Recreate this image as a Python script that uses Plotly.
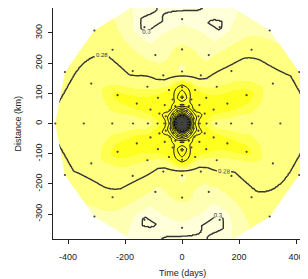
import numpy as np
import plotly.graph_objects as go

# ---- data ----
# directions of the lag rays (degrees); the map is centrally symmetric
ray_angles_deg = [0, 22.5, 45, 67.5, 90, 112.5, 135, 157.5]
# lag distances along each ray (plot units) - last point per ray given in outer_radius
lag_radii = [0, 8, 11, 16, 22, 31, 44, 62, 86, 120, 172, 245, 345]
outer_radius = [445, 445, 435, 425, 415, 425, 435, 445]

# semivariance values per ray, at lag_radii + outer radius
gamma_000 = [0.000, 0.050, 0.085, 0.125, 0.170, 0.225, 0.250, 0.265, 0.270, 0.275, 0.276, 0.276, 0.277, 0.279]
gamma_022 = [0.000, 0.050, 0.085, 0.125, 0.165, 0.215, 0.240, 0.256, 0.263, 0.265, 0.263, 0.265, 0.276, 0.282]
gamma_045 = [0.000, 0.045, 0.080, 0.120, 0.160, 0.210, 0.235, 0.262, 0.264, 0.266, 0.272, 0.277, 0.282, 0.293]
gamma_067 = [0.000, 0.045, 0.075, 0.115, 0.155, 0.205, 0.230, 0.256, 0.264, 0.268, 0.284, 0.291, 0.301, 0.297]
gamma_090 = [0.000, 0.045, 0.075, 0.110, 0.150, 0.200, 0.225, 0.262, 0.236, 0.255, 0.290, 0.287, 0.298, 0.303]
gamma_112 = [0.000, 0.045, 0.075, 0.115, 0.155, 0.205, 0.230, 0.256, 0.264, 0.268, 0.285, 0.292, 0.302, 0.297]
gamma_135 = [0.000, 0.045, 0.080, 0.120, 0.160, 0.210, 0.235, 0.262, 0.264, 0.266, 0.273, 0.283, 0.281, 0.282]
gamma_157 = [0.000, 0.050, 0.085, 0.125, 0.165, 0.215, 0.240, 0.256, 0.263, 0.265, 0.265, 0.266, 0.276, 0.282]

fill_breaks = [0.268, 0.272, 0.289, 0.296]
fill_colors = ["#FFFF1F", "#FFFF50", "#FFFF82", "#FFFFB4", "#FFFFDA"]
inner_levels = (0.01, 0.26, 0.01)
outer_levels = (0.28, 0.30, 0.02)

x_ticks = [-400, -200, 0, 200, 400]
x_tick_labels = ["-400", "-200", "0", "200", "400"]
y_ticks = [-300, -200, -100, 0, 100, 200, 300]
y_tick_labels = ["-300", "-200", "-100", "0", "100", "200", "300"]
x_range = [-453, 442]
y_range = [-382, 382]

# ---- build full set of rays (central symmetry: gamma(h) = gamma(-h)) ----
rows = [gamma_000, gamma_022, gamma_045, gamma_067, gamma_090, gamma_112, gamma_135, gamma_157]
angles_full = np.radians(np.array(ray_angles_deg + [a + 180 for a in ray_angles_deg]))
values_full = rows + rows
outer_full = outer_radius + outer_radius
radii_full = [lag_radii + [o] for o in outer_full]
nray = len(angles_full)

# ---- render the field on a fine grid (linear interpolation between rays) ----
gx = np.linspace(x_range[0], x_range[1], 320)
gy = np.linspace(y_range[0], y_range[1], 280)
X, Y = np.meshgrid(gx, gy)
Rr = np.hypot(X, Y)
Th = np.mod(np.arctan2(Y, X), 2 * np.pi)
step = 2 * np.pi / nray
idx = Th / step
i0 = np.floor(idx).astype(int) % nray
i1 = (i0 + 1) % nray
w = idx - np.floor(idx)
ray_vals = np.array([np.interp(Rr, radii_full[k], values_full[k]) for k in range(nray)])
v0 = np.take_along_axis(ray_vals, i0[None], axis=0)[0]
v1 = np.take_along_axis(ray_vals, i1[None], axis=0)[0]
Z = np.round((1 - w) * v0 + w * v1, 4)

zmin, zmax = 0.0, 0.32
bounds = [zmin] + fill_breaks + [zmax]
cscale = []
for i, c in enumerate(fill_colors):
    a = (bounds[i] - zmin) / (zmax - zmin)
    b = (bounds[i + 1] - zmin) / (zmax - zmin)
    cscale.append([a, c])
    cscale.append([b, c])

fig = go.Figure()
fig.add_trace(go.Heatmap(x=gx, y=gy, z=Z, colorscale=cscale, zmin=zmin, zmax=zmax,
                         showscale=False, hoverinfo="skip", zsmooth=False))
fig.add_trace(go.Contour(x=gx, y=gy, z=Z, showscale=False, hoverinfo="skip",
                         contours=dict(start=inner_levels[0], end=inner_levels[1], size=inner_levels[2],
                                       coloring="none"),
                         line=dict(color="black", width=1.0)))
fig.add_trace(go.Contour(x=gx, y=gy, z=Z, showscale=False, hoverinfo="skip",
                         contours=dict(start=outer_levels[0], end=outer_levels[1], size=outer_levels[2],
                                       coloring="none", showlabels=True,
                                       labelfont=dict(size=6, color="#333", family="Liberation Sans")),
                         line=dict(color="#333333", width=1.4)))

# white mask outside the hull of the lag points
hx = [o * np.cos(a) for o, a in zip(outer_full, angles_full)]
hy = [o * np.sin(a) for o, a in zip(outer_full, angles_full)]
start = nray // 2  # ray at 180 degrees
order = [(start + k) % nray for k in range(nray)] + [start]
big = 2000
mx = [-big, -big, big, big, -big, -big] + [hx[k] for k in order] + [-big]
my = [0, big, big, -big, -big, 0] + [hy[k] for k in order] + [0]
fig.add_trace(go.Scatter(x=mx, y=my, mode="lines", fill="toself", fillcolor="white",
                         line=dict(width=0, color="white"), hoverinfo="skip", showlegend=False))

# lag points
px, py = [], []
for k in range(nray):
    for r in radii_full[k][1:]:
        px.append(r * np.cos(angles_full[k]))
        py.append(r * np.sin(angles_full[k]))
fig.add_trace(go.Scatter(x=px, y=py, mode="markers", marker=dict(size=2.2, color="#444"),
                         hoverinfo="skip", showlegend=False))

font = dict(family="Liberation Sans, Arial, sans-serif", size=9, color="#222")
# the page body adds an 8 px offset; figure is sized to fit the 308x279 window
fig.update_layout(
    width=300, height=271, margin=dict(l=45, r=0, t=0, b=40),
    paper_bgcolor="white", plot_bgcolor="white", showlegend=False, font=font,
    xaxis=dict(range=x_range, tickvals=x_ticks, ticktext=x_tick_labels, ticks="outside", ticklen=4,
               tickcolor="#222", showline=True, linecolor="#222", linewidth=1, mirror=True,
               showgrid=False, zeroline=False, ticklabelstandoff=5, tickfont=font, automargin=False),
    yaxis=dict(range=y_range, tickvals=y_ticks, ticktext=y_tick_labels, ticks="outside", ticklen=4,
               tickcolor="#222", showline=True, linecolor="#222", linewidth=1, mirror=False,
               showgrid=False, zeroline=False, tickangle=-90, ticklabelstandoff=2, tickfont=font,
               automargin=False),
    annotations=[
        dict(text="Time (days)", xref="x", x=0, yref="paper", y=0, yshift=-34, showarrow=False,
             xanchor="center", yanchor="middle", font=font),
        dict(text="Distance (km)", xref="paper", x=0, xshift=-36, yref="y", y=0, showarrow=False,
             textangle=-90, xanchor="center", yanchor="middle", font=font),
    ],
)
fig.write_html("out.html")
